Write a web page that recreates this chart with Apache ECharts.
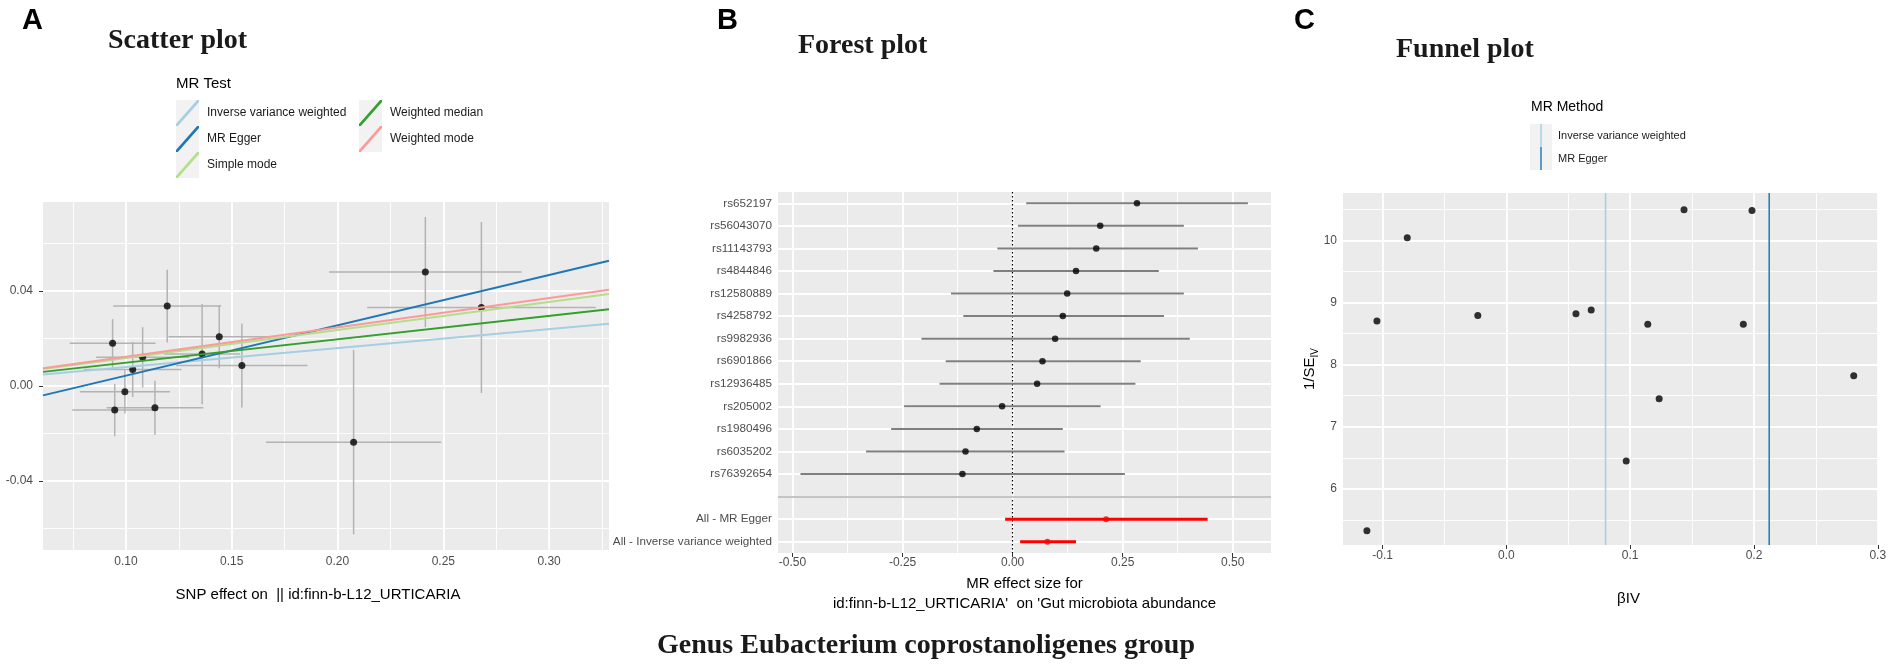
<!DOCTYPE html>
<html><head><meta charset="utf-8">
<script src="https://cdn.jsdelivr.net/npm/echarts@6/dist/echarts.min.js"></script>
<style>html,body{margin:0;padding:0;background:#fff}#c{width:1892px;height:672px}</style>
</head><body><div id="c"></div>
<script>
// ================= DATA =================
// Panel A: scatter (SNP effect on exposure vs outcome)
const scatterBetaX = [0.0937, 0.0947, 0.0995, 0.1032, 0.1079, 0.1137, 0.1195, 0.1360, 0.1441, 0.1548, 0.2076, 0.2415, 0.2680];
const scatterBetaY = [0.0180, -0.0101, -0.0024, 0.0070, 0.0121, -0.0091, 0.0337, 0.0135, 0.0208, 0.0087, -0.0236, 0.0480, 0.0331];
const scatterSeX   = [0.0203, 0.0201, 0.0213, 0.0230, 0.0220, 0.0229, 0.0255, 0.0180, 0.0240, 0.0310, 0.0414, 0.0455, 0.0540];
const scatterSeY   = [0.0102, 0.0110, 0.0091, 0.0116, 0.0127, 0.0114, 0.0153, 0.0211, 0.0133, 0.0177, 0.0388, 0.0232, 0.0360];
const methodNames      = ['Inverse variance weighted', 'MR Egger', 'Simple mode', 'Weighted median', 'Weighted mode'];
const methodSlopes     = [0.080, 0.212, 0.118, 0.0985, 0.1235];
const methodIntercepts = [0, -0.0168, 0, 0, 0];
const scatterXTicks = [0.10, 0.15, 0.20, 0.25, 0.30];
const scatterYTicks = [-0.04, 0.00, 0.04];

// Panel B: forest
const forestSNPs = ['rs652197', 'rs56043070', 'rs11143793', 'rs4844846', 'rs12580889', 'rs4258792', 'rs9982936',
                    'rs6901866', 'rs12936485', 'rs205002', 'rs1980496', 'rs6035202', 'rs76392654'];
const forestBeta = [0.2825, 0.199, 0.190, 0.144, 0.124, 0.114, 0.0966, 0.0678, 0.0557, -0.0239, -0.0814, -0.107, -0.114];
const forestLow  = [0.031, 0.012, -0.0345, -0.0436, -0.140, -0.112, -0.207, -0.152, -0.166, -0.2466, -0.276, -0.333, -0.482];
const forestHigh = [0.5345, 0.389, 0.421, 0.332, 0.389, 0.344, 0.4025, 0.291, 0.279, 0.200, 0.114, 0.118, 0.255];
const summaryNames = ['All - MR Egger', 'All - Inverse variance weighted'];
const summaryBeta  = [0.2125, 0.079];
const summaryLow   = [-0.017, 0.017];
const summaryHigh  = [0.443, 0.144];
const forestXTicks = [-0.50, -0.25, 0.00, 0.25, 0.50];

// Panel C: funnel
const funnelBeta  = [-0.1127, -0.1046, -0.0801, -0.0231, 0.0562, 0.0685, 0.0968, 0.1142, 0.1234, 0.1435, 0.1914, 0.1984, 0.2806];
const funnelInvSE = [5.33, 8.70, 10.04, 8.79, 8.82, 8.88, 6.45, 8.65, 7.45, 10.49, 8.65, 10.48, 7.82];
const funnelMethodNames = ['Inverse variance weighted', 'MR Egger'];
const funnelMethodBeta  = [0.0801, 0.2123];
const funnelXTicks = [-0.1, 0.0, 0.1, 0.2, 0.3];
const funnelYTicks = [6, 7, 8, 9, 10];

// ================= LAYOUT / STYLE =================
const SC_X = [0.0608, 0.3283], SC_Y = [-0.069, 0.0775];
const FO_X = [-0.533, 0.587];
const FU_X = [-0.132, 0.3002], FU_Y = [5.10, 10.76];
const SANS = 'Liberation Sans, Arial, sans-serif';
const SERIF = 'Liberation Serif, Times New Roman, serif';
const TICK_COL = '#4d4d4d';
const methodColors = {'Inverse variance weighted': '#a6cee3', 'MR Egger': '#1f78b4', 'Simple mode': '#b2df8a',
                      'Weighted median': '#33a02c', 'Weighted mode': '#fb9a99'};
const DIAG_ICON = 'path://M0,20 L1.6,20 L20,1.6 L20,0 L18.4,0 L0,18.4 Z';
const VERT_ICON = 'path://M0,0 L0.01,0 L0,0.01 Z M9.35,0 L10.65,0 L10.65,20 L9.35,20 Z M20,20 L19.99,20 L20,19.99 Z';

function midpoints(ticks, range) {
  const step = ticks[1] - ticks[0];
  const out = [];
  for (let k = -1; k < ticks.length; k++) {
    const v = ticks[0] + (k + 0.5) * step;
    if (v > range[0] && v < range[1]) out.push(+v.toFixed(6));
  }
  return out;
}
const MINOR = {color: '#ffffff', width: 0.9, type: 'solid'};
const MAJOR = {color: '#ffffff', width: 1.8, type: 'solid'};
function gridMarks(xMajor, xMinor, yMajor, yMinor) {
  return [].concat(
    xMinor.map(v => ({xAxis: v, lineStyle: MINOR})),
    yMinor.map(v => ({yAxis: v, lineStyle: MINOR})),
    xMajor.map(v => ({xAxis: v, lineStyle: MAJOR})),
    yMajor.map(v => ({yAxis: v, lineStyle: MAJOR}))
  );
}
function markLineOf(data) {
  return {z: 1, silent: true, precision: 6, symbol: ['none', 'none'], label: {show: false},
          emphasis: {disabled: true}, animation: false, data: data};
}
function valueAxis(grid, range, ticks, fmt, extra) {
  return Object.assign({
    gridIndex: grid, type: 'value', min: range[0], max: range[1],
    axisLine: {show: false}, splitLine: {show: false},
    axisTick: {show: true, length: 4, lineStyle: {color: '#333333', width: 1}, customValues: ticks},
    axisLabel: {customValues: ticks, formatter: fmt, color: TICK_COL, fontSize: 12, fontFamily: SANS}
  }, extra);
}

// category list for forest
const blankIndex = forestSNPs.length;
const forestCats = forestSNPs.concat([' '], summaryNames);

// ================= SERIES =================
const series = [];

// A: error bars
series.push({
  type: 'custom', name: 'errbars', xAxisIndex: 0, yAxisIndex: 0, z: 2, silent: true, clip: true,
  encode: {x: 0, y: 1},
  data: scatterBetaX.map((x, i) => [x, scatterBetaY[i], scatterSeX[i], scatterSeY[i]]),
  renderItem: function (params, api) {
    const x = api.value(0), y = api.value(1), ex = api.value(2), ey = api.value(3);
    const h0 = api.coord([x - ex, y]), h1 = api.coord([x + ex, y]);
    const v0 = api.coord([x, y - ey]), v1 = api.coord([x, y + ey]);
    const st = {stroke: '#b3b3b3', lineWidth: 1.5};
    return {type: 'group', children: [
      {type: 'line', shape: {x1: h0[0], y1: h0[1], x2: h1[0], y2: h1[1]}, style: st},
      {type: 'line', shape: {x1: v0[0], y1: v0[1], x2: v1[0], y2: v1[1]}, style: st}
    ]};
  }
});
// A: points + grid lines
series.push({
  type: 'scatter', name: 'snps', xAxisIndex: 0, yAxisIndex: 0, z: 3, silent: true,
  symbolSize: 7, itemStyle: {color: '#000000'},
  data: scatterBetaX.map((x, i) => [x, scatterBetaY[i]]),
  markLine: markLineOf(gridMarks(scatterXTicks, midpoints(scatterXTicks, SC_X), scatterYTicks, midpoints(scatterYTicks, SC_Y)))
});
// A: regression lines
methodNames.forEach((name, i) => {
  const col = methodColors[name];
  series.push({
    type: 'line', name: name, xAxisIndex: 0, yAxisIndex: 0, z: 4, silent: true,
    showSymbol: false, symbol: 'none', color: col,
    lineStyle: {color: col, width: 2}, itemStyle: {color: col},
    data: SC_X.map(x => [x, methodIntercepts[i] + methodSlopes[i] * x])
  });
});

// B: SNP confidence intervals
function ciRender(color, width) {
  return function (params, api) {
    const p0 = api.coord([api.value(0), api.value(2)]);
    const p1 = api.coord([api.value(1), api.value(2)]);
    return {type: 'line', shape: {x1: p0[0], y1: p0[1], x2: p1[0], y2: p1[1]},
            style: {stroke: color, lineWidth: width}};
  };
}
series.push({
  type: 'custom', name: 'forestCI', xAxisIndex: 1, yAxisIndex: 1, z: 2, silent: true, clip: true,
  encode: {x: [0, 1], y: 2},
  data: forestLow.map((lo, i) => [lo, forestHigh[i], i]),
  renderItem: ciRender('#7f7f7f', 2)
});
series.push({
  type: 'custom', name: 'summaryCI', xAxisIndex: 1, yAxisIndex: 1, z: 2, silent: true, clip: true,
  encode: {x: [0, 1], y: 2},
  data: summaryLow.map((lo, j) => [lo, summaryHigh[j], blankIndex + 1 + j]),
  renderItem: ciRender('#ff0000', 3)
});
const forestRowMarks = forestCats.map((c, i) => ({yAxis: i, lineStyle: MAJOR}));
series.push({
  type: 'scatter', name: 'forestPts', xAxisIndex: 1, yAxisIndex: 1, z: 3, silent: true,
  symbolSize: 6.5, itemStyle: {color: '#000000'},
  data: forestBeta.map((b, i) => [b, i]),
  markLine: markLineOf([].concat(
    gridMarks(forestXTicks, midpoints(forestXTicks, FO_X), [], []),
    forestRowMarks,
    [{xAxis: 0, lineStyle: {color: '#000000', width: 1.2, type: [1.5, 2.5]}},
     {yAxis: blankIndex, lineStyle: {color: '#c4c4c4', width: 2, type: 'solid'}}]
  ))
});
series.push({
  type: 'scatter', name: 'summaryPts', xAxisIndex: 1, yAxisIndex: 1, z: 3, silent: true,
  symbolSize: 6, itemStyle: {color: '#ff0000'},
  data: summaryBeta.map((b, j) => [b, blankIndex + 1 + j])
});

// C: funnel points
series.push({
  type: 'scatter', name: 'funnelPts', xAxisIndex: 2, yAxisIndex: 2, z: 3, silent: true,
  symbolSize: 7, itemStyle: {color: '#000000'},
  data: funnelBeta.map((b, i) => [b, funnelInvSE[i]]),
  markLine: markLineOf(gridMarks(funnelXTicks, midpoints(funnelXTicks, FU_X), funnelYTicks, midpoints(funnelYTicks, FU_Y)))
});
funnelMethodNames.forEach((name, i) => {
  const col = methodColors[name];
  series.push({
    type: 'line', name: name, xAxisIndex: 2, yAxisIndex: 2, z: 4, silent: true,
    showSymbol: false, symbol: 'none', color: col,
    lineStyle: {color: col, width: 1.5}, itemStyle: {color: col},
    data: FU_Y.map(y => [funnelMethodBeta[i], y])
  });
});

// ================= OPTION =================
const titleSans = (text, left, top, size, weight) => ({
  text: text, left: left, top: top, padding: 0,
  textStyle: {fontFamily: SANS, fontSize: size, fontWeight: weight, color: '#000000'}
});
const titleSerif = (text, left, top) => ({
  text: text, left: left, top: top, padding: 0,
  textStyle: {fontFamily: SERIF, fontSize: 28, fontWeight: 'bold', color: '#1a1a1a'}
});
const legendBase = {
  orient: 'vertical', padding: 0, itemGap: 0, selectedMode: false, symbolKeepAspect: false,
  itemStyle: {borderWidth: 0}, inactiveColor: '#ccc'
};

const option = {
  animation: false,
  backgroundColor: '#ffffff',
  textStyle: {fontFamily: SANS},
  title: [
    titleSans('A', 22, 6, 29, 'bold'),
    titleSans('B', 717, 6, 29, 'bold'),
    titleSans('C', 1294, 6, 29, 'bold'),
    titleSerif('Scatter plot', 108, 27),
    titleSerif('Forest plot', 798, 32),
    titleSerif('Funnel plot', 1396, 36),
    titleSerif('Genus Eubacterium coprostanoligenes group', 657, 632),
    titleSans('MR Test', 176, 76, 15, 'normal'),
    titleSans('MR Method', 1531, 100, 14, 'normal')
  ],
  legend: [
    Object.assign({}, legendBase, {
      data: methodNames.slice(0, 3), left: 176, top: 100, itemWidth: 23, itemHeight: 26, icon: DIAG_ICON,
      textStyle: {fontSize: 12, color: '#1a1a1a', fontFamily: SANS, padding: [0, 0, 0, 3]}
    }),
    Object.assign({}, legendBase, {
      data: methodNames.slice(3), left: 359, top: 100, itemWidth: 23, itemHeight: 26, icon: DIAG_ICON,
      textStyle: {fontSize: 12, color: '#1a1a1a', fontFamily: SANS, padding: [0, 0, 0, 3]}
    }),
    Object.assign({}, legendBase, {
      data: funnelMethodNames, left: 1530, top: 124, itemWidth: 22, itemHeight: 23, icon: VERT_ICON,
      textStyle: {fontSize: 11, color: '#1a1a1a', fontFamily: SANS, padding: [0, 0, 0, 1]}
    })
  ],
  graphic: [
    {type: 'rect', z: 0, silent: true, shape: {x: 176, y: 100, width: 23, height: 78}, style: {fill: '#f2f2f2'}},
    {type: 'rect', z: 0, silent: true, shape: {x: 359, y: 100, width: 23, height: 52}, style: {fill: '#f2f2f2'}},
    {type: 'rect', z: 0, silent: true, shape: {x: 1530, y: 124, width: 22, height: 46}, style: {fill: '#f2f2f2'}}
  ],
  grid: [
    {left: 43, top: 202, width: 566, height: 348, show: true, backgroundColor: '#ebebeb', borderWidth: 0, containLabel: false, outerBoundsMode: 'none'},
    {left: 778, top: 192, width: 493, height: 361, show: true, backgroundColor: '#ebebeb', borderWidth: 0, containLabel: false, outerBoundsMode: 'none'},
    {left: 1343, top: 193, width: 535, height: 352, show: true, backgroundColor: '#ebebeb', borderWidth: 0, containLabel: false, outerBoundsMode: 'none'}
  ],
  xAxis: [
    valueAxis(0, SC_X, scatterXTicks, v => Number(v).toFixed(2), {
      name: 'SNP effect on  || id:finn-b-L12_URTICARIA', nameLocation: 'middle', nameGap: 37,
      nameTextStyle: {fontSize: 15, color: '#000000', fontFamily: SANS, padding: [0, 16, 0, 0]}
    }),
    valueAxis(1, FO_X, forestXTicks, v => Number(v).toFixed(2), {
      name: "MR effect size for\nid:finn-b-L12_URTICARIA'  on 'Gut microbiota abundance",
      nameLocation: 'middle', nameGap: 20,
      nameTextStyle: {fontSize: 15, lineHeight: 20, color: '#000000', fontFamily: SANS}
    }),
    valueAxis(2, FU_X, funnelXTicks, v => Number(v).toFixed(1), {
      name: 'βIV', nameLocation: 'middle', nameGap: 46,
      nameTextStyle: {fontSize: 15, color: '#000000', fontFamily: SANS, padding: [0, 0, 0, 36]}
    })
  ],
  yAxis: [
    valueAxis(0, SC_Y, scatterYTicks, v => Number(v).toFixed(2), {}),
    {
      gridIndex: 1, type: 'category', data: forestCats, inverse: true, boundaryGap: true,
      axisLine: {show: false}, splitLine: {show: false},
      axisTick: {show: true, length: 3, alignWithLabel: true, lineStyle: {color: '#333333'}},
      axisLabel: {interval: 0, color: TICK_COL, fontSize: 11.7, margin: 6, fontFamily: SANS}
    },
    valueAxis(2, FU_Y, funnelYTicks, v => String(v), {
      name: '{a|1/SE}{b|IV}', nameLocation: 'middle', nameGap: 20,
      nameTextStyle: {color: '#000000', fontFamily: SANS,
        rich: {a: {fontSize: 15, lineHeight: 20, fontFamily: SANS, color: '#000'},
               b: {fontSize: 10, lineHeight: 10, verticalAlign: 'bottom', fontFamily: SANS, color: '#000'}}}
    })
  ],
  series: series
};
// label margins per axis
option.xAxis[0].axisLabel.margin = 6;
option.xAxis[1].axisLabel.margin = 4;
option.xAxis[2].axisLabel.margin = 5;
option.yAxis[0].axisLabel.margin = 10;
option.yAxis[2].axisLabel.margin = 6;

const chart = echarts.init(document.getElementById('c'), null, {renderer: 'canvas', width: 1892, height: 672});
chart.setOption(option);
</script>
</body></html>
